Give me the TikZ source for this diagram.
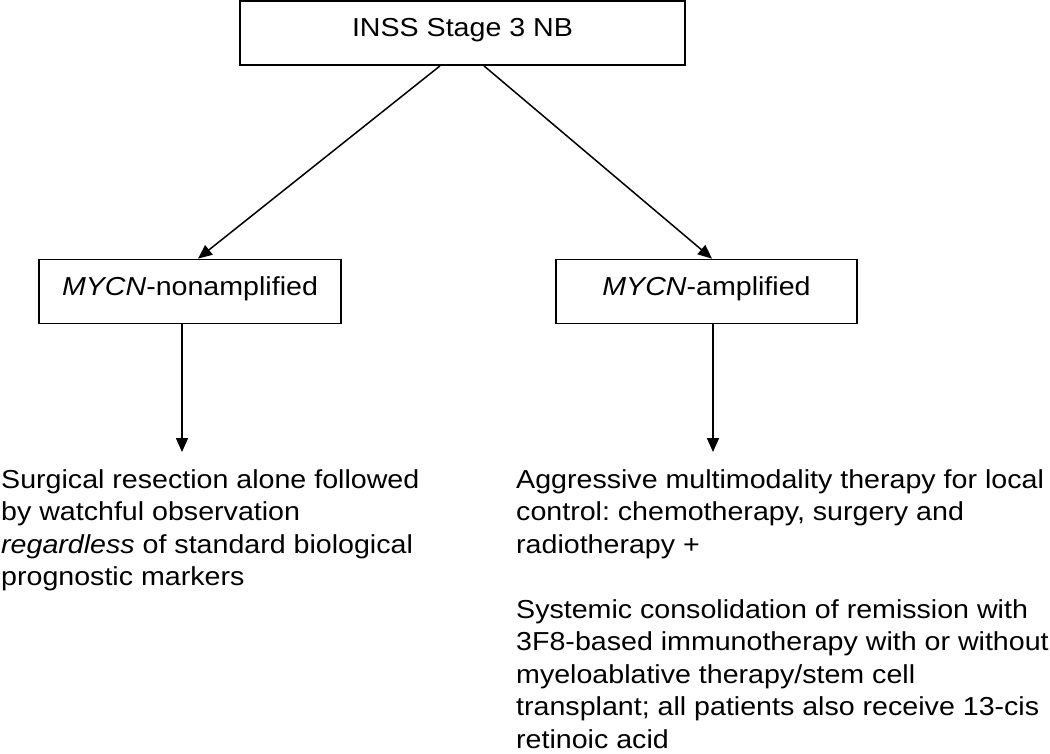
\documentclass[tikz,border=0pt]{standalone}
\usepackage{fontspec}
\setmainfont[FakeStretch=1.1]{Liberation Sans}
\usetikzlibrary{arrows.meta,calc}

\begin{document}
\frenchspacing
\begin{tikzpicture}[x=1pt, y=-1pt,
    font=\fontsize{26}{32.5}\selectfont,
    box/.style={draw, line width=1.8pt, minimum height=64pt, inner sep=0pt, text height=19pt, text depth=12pt},
    note/.style={anchor=north west, inner sep=0pt, align=left},
    link/.style={line width=1.5pt, -{Triangle[length=14pt,width=12pt]}}]
    \useasboundingbox (0, 0) rectangle (1050, 753);
    \node[box, minimum width=445pt] (stage) at (462.5, 33) {INSS Stage 3 NB};
    \node[box, minimum width=302pt] (nonamp) at (190, 291.5) {\textit{MYCN}-nonamplified};
    \node[box, minimum width=301pt] (amp) at (706.5, 291.5) {\textit{MYCN}-amplified};
    \node[note] (surgery) at (1, 469) {Surgical resection alone followed\\by watchful observation\\\textit{regardless} of standard biological\\prognostic markers};
    \node[note] (therapy) at (516, 469) {Aggressive multimodality therapy for local\\control: chemotherapy, surgery and\\radiotherapy +\\[32.5pt]Systemic consolidation of remission with\\3F8-based immunotherapy with or without\\myeloablative therapy/stem cell\\transplant; all patients also receive 13-cis\\retinoic acid};
    \coordinate (lefttip) at (182, 452);
    \coordinate (righttip) at (713, 452);
    \draw[link] ($(stage.south)+(-22.5, 0)$) -- ($(nonamp.north)+(8, 0)$);
    \draw[link] ($(stage.south)+(21.5, 0)$) -- ($(amp.north)+(5.5, 0)$);
    \draw[link] ($(nonamp.south)+(-8, 0)$) -- (lefttip);
    \draw[link] ($(amp.south)+(6.5, 0)$) -- (righttip);
\end{tikzpicture}
\end{document}
